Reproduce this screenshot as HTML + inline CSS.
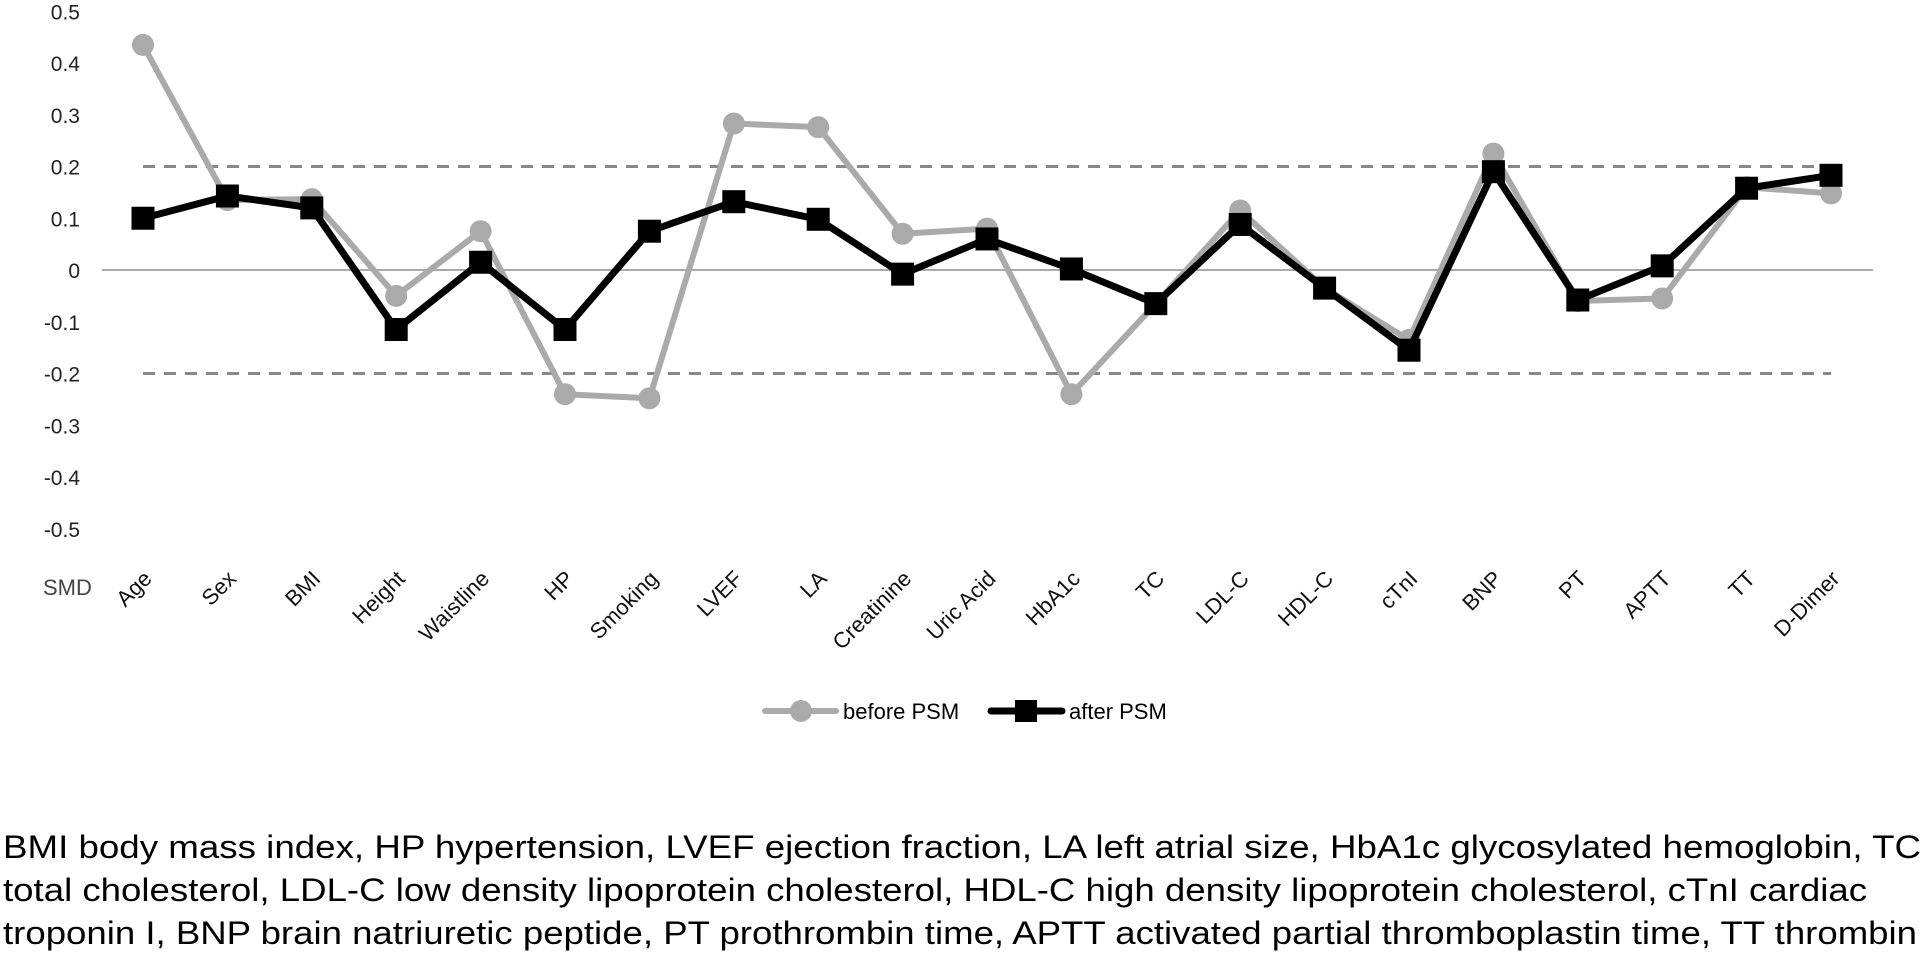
<!DOCTYPE html>
<html><head><meta charset="utf-8"><style>
html,body{margin:0;padding:0;background:#fff;width:1925px;height:961px;overflow:hidden}
svg{display:block}
text{font-family:"Liberation Sans",sans-serif}
</style></head><body>
<svg id="chart" width="1925" height="961" viewBox="0 0 1925 961" xmlns="http://www.w3.org/2000/svg">
<g id="axes"></g>
<g id="series"></g>
<g id="legend">
  <line x1="765" y1="711" x2="836" y2="711" stroke="#aaa" stroke-width="6" stroke-linecap="round"/>
  <circle cx="801" cy="711" r="11" fill="#aaa"/>
  <text x="843" y="719" font-size="22" fill="#000">before PSM</text>
  <line x1="991" y1="711" x2="1062" y2="711" stroke="#000" stroke-width="7" stroke-linecap="round"/>
  <rect x="1015" y="700" width="22" height="22" fill="#000"/>
  <text x="1069" y="719" font-size="22" fill="#000">after PSM</text>
</g>
<g id="footer" font-size="32" fill="#000">
  <text x="3" y="858" textLength="1918" lengthAdjust="spacingAndGlyphs">BMI body mass index, HP hypertension, LVEF ejection fraction, LA left atrial size, HbA1c glycosylated hemoglobin, TC</text>
  <text x="3" y="901" textLength="1864" lengthAdjust="spacingAndGlyphs">total cholesterol, LDL-C low density lipoprotein cholesterol, HDL-C high density lipoprotein cholesterol, cTnI cardiac</text>
  <text x="3" y="944" textLength="1914" lengthAdjust="spacingAndGlyphs">troponin I, BNP brain natriuretic peptide, PT prothrombin time, APTT activated partial thromboplastin time, TT thrombin</text>
</g>
</svg>
<script>
const categories = ["Age","Sex","BMI","Height","Waistline","HP","Smoking","LVEF","LA","Creatinine","Uric Acid","HbA1c","TC","LDL-C","HDL-C","cTnI","BNP","PT","APTT","TT","D-Dimer"];
const beforePSM = [0.435,0.135,0.137,-0.05,0.075,-0.24,-0.248,0.283,0.276,0.07,0.08,-0.24,-0.065,0.115,-0.035,-0.135,0.225,-0.06,-0.055,0.16,0.148];
const afterPSM = [0.1,0.143,0.12,-0.115,0.015,-0.115,0.075,0.132,0.098,-0.008,0.06,0.002,-0.065,0.088,-0.035,-0.155,0.19,-0.058,0.008,0.158,0.183];
const yTicks = [0.5,0.4,0.3,0.2,0.1,0,-0.1,-0.2,-0.3,-0.4,-0.5];
const yTickLabels = ["0.5","0.4","0.3","0.2","0.1","0","-0.1","-0.2","-0.3","-0.4","-0.5"];
const thresholds = [0.2,-0.2];

const NS = "http://www.w3.org/2000/svg";
const x0 = 143, step = 84.4, zeroY = 270, perUnit = 517.5;
function xPos(i){ return x0 + i*step; }
function yPos(v){ return zeroY - v*perUnit; }
function mk(tag, attrs, parent){ const e=document.createElementNS(NS,tag); for(const k in attrs) e.setAttribute(k,attrs[k]); parent.appendChild(e); return e; }

const axes = document.getElementById('axes');
const series = document.getElementById('series');

yTicks.forEach((v,i)=>{
  const t = mk('text',{x:80,y:yPos(v)+8,'text-anchor':'end','font-size':21,fill:'#222'},axes);
  t.textContent = yTickLabels[i];
  
  
});
const zl = mk('line',{x1:102,y1:yPos(0),x2:xPos(categories.length-1)+42,y2:yPos(0),stroke:'#aaa','stroke-width':2},axes);


thresholds.forEach(v=>{
  const d = mk('line',{x1:xPos(0),y1:yPos(v),x2:xPos(categories.length-1),y2:yPos(v),stroke:'#888','stroke-width':3,'stroke-dasharray':'12 9'},axes);
  
  
});
const smd = mk('text',{x:43,y:595,'font-size':22,fill:'#444'},axes);
smd.textContent = 'SMD';


categories.forEach((c,i)=>{
  const x = xPos(i)+10, y = 580;
  const t = mk('text',{x:x,y:y,'text-anchor':'end','font-size':22,fill:'#111',transform:`rotate(-45 ${x} ${y})`},axes);
  t.textContent = c;
  
  
});

function pts(arr){ return arr.map((v,i)=>xPos(i)+','+yPos(v)).join(' '); }
const lb = mk('polyline',{points:pts(beforePSM),fill:'none',stroke:'#aaa','stroke-width':6,'stroke-linejoin':'round'},series);


beforePSM.forEach((v,i)=>{
  const c = mk('circle',{cx:xPos(i),cy:yPos(v),r:11,fill:'#aaa'},series);
  
  
});
const la = mk('polyline',{points:pts(afterPSM),fill:'none',stroke:'#000','stroke-width':7,'stroke-linejoin':'miter'},series);


afterPSM.forEach((v,i)=>{
  const r = mk('rect',{x:xPos(i)-11.5,y:yPos(v)-11.5,width:23,height:23,fill:'#000'},series);
  
  
});
</script>
</body></html>
